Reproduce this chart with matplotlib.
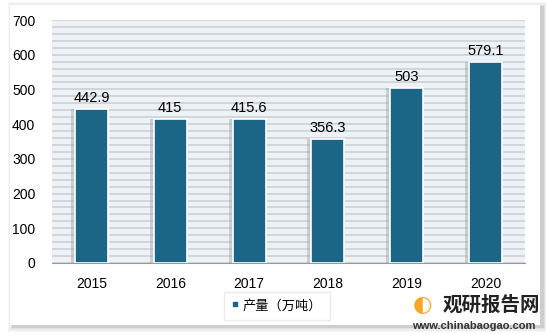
import matplotlib.pyplot as plt
from matplotlib.patches import Rectangle

plt.rcParams['font.family'] = ['Liberation Sans', 'Noto Sans CJK SC', 'DejaVu Sans']

years = ['2015', '2016', '2017', '2018', '2019', '2020']
output = [442.9, 415, 415.6, 356.3, 503, 579.1]
labels = ['442.9', '415', '415.6', '356.3', '503', '579.1']
yticks = [0, 100, 200, 300, 400, 500, 600, 700]

fig = plt.figure(figsize=(5.46, 3.34), dpi=100)
fig.patch.set_facecolor('white')

# card with soft shadow
for i, a in enumerate([0.05, 0.08, 0.12, 0.18]):
    d = (4 - i) * 1.2
    fig.patches.append(Rectangle(((10 - d + 3) / 546, 1 - (325 + d + 2) / 334),
                                 (530 + 2 * d) / 546, (320 + 2 * d) / 334,
                                 transform=fig.transFigure, facecolor='#808080',
                                 edgecolor='none', alpha=a, zorder=-2))
fig.patches.append(Rectangle((10 / 546, 1 - 325 / 334), 530 / 546, 320 / 334,
                             transform=fig.transFigure, facecolor='white',
                             edgecolor='none', zorder=-1))

ax = fig.add_axes([52 / 546, 1 - 263 / 334, 473 / 546, 243 / 334])
ax.set_zorder(2)
ax.set_facecolor('#edf2f7')
ax.set_ylim(0, 700)
ax.set_xlim(-0.5, 5.5)
ax.set_yticks(yticks)
ax.set_yticks(range(0, 701, 20), minor=True)
ax.grid(axis='y', which='both', color='#c9ced4', linewidth=1.1, zorder=0)
ax.tick_params(axis='y', which='both', length=0, labelsize=10, pad=12)
ax.tick_params(axis='x', length=0, labelsize=10, pad=10)
for s in ['top', 'right', 'left']:
    ax.spines[s].set_visible(False)
ax.spines['bottom'].set_color('#999999')

x = range(len(years))
# shadow bars
ax.bar([i - 0.03 for i in x], output, width=0.46, color='#9a9a9a', alpha=0.4,
       zorder=2, bottom=0)
bars = ax.bar(x, output, width=0.42, color='#1b6587', edgecolor='white',
              linewidth=1.2, zorder=3, label='产量（万吨）')
ax.set_xticks(list(x))
ax.set_xticklabels(years)
for i, v in enumerate(output):
    ax.text(i, v + 12, labels[i], ha='center', va='bottom', fontsize=10.5, zorder=4)

leg = fig.legend(handles=[bars], loc='center', bbox_to_anchor=(277 / 546, 1 - 306 / 334),
                 fontsize=9.5, frameon=True, handlelength=0.5, handleheight=0.5,
                 handletextpad=0.3, borderpad=0.6, fancybox=False, shadow=False)
leg.get_frame().set_edgecolor('#e6e6e6')
leg.get_frame().set_linewidth(1.0)

fig.text(443 / 546, 1 - 305 / 334, '观研报告网', ha='left', va='center', fontsize=14,
         fontweight='bold', color='#222222', family=['Noto Sans CJK SC'])
fig.text(536 / 546, 1 - 326 / 334, 'www.chinabaogao.com', ha='right', va='center',
         fontsize=8, fontweight='bold', color='#333333')
fig.text(422 / 546, 1 - 305 / 334, '◐', ha='center', va='center', fontsize=16,
         color='#f5a623', family=['DejaVu Sans'])

fig.savefig('out.png', dpi=100)
